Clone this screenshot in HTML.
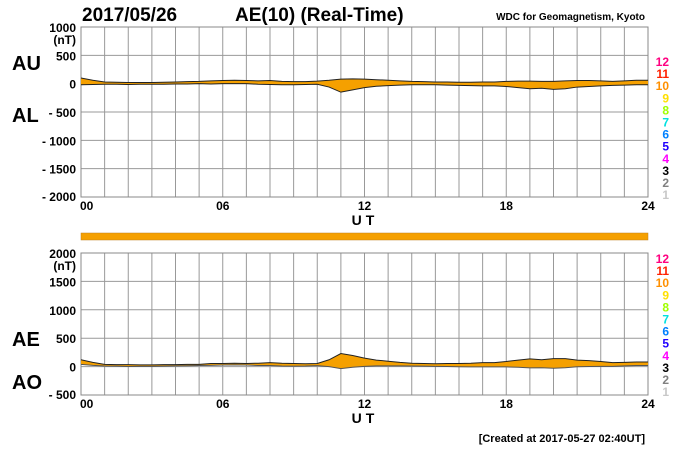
<!DOCTYPE html>
<html><head><meta charset="utf-8"><style>
body{margin:0;background:#fff;font-family:"Liberation Sans",sans-serif;}
svg text{font-family:"Liberation Sans",sans-serif;font-weight:bold;}
</style></head><body>
<svg id="c" width="700" height="450" xmlns="http://www.w3.org/2000/svg">
<text x="82" y="21" font-size="19">2017/05/26</text>
<text x="235" y="21" font-size="19">AE(10) (Real-Time)</text>
<text x="645" y="20" font-size="10" text-anchor="end" font-weight="normal">WDC for Geomagnetism, Kyoto</text>
<text x="645" y="442" font-size="11" text-anchor="end" font-weight="normal">[Created at 2017-05-27 02:40UT]</text>
<text x="12" y="70" font-size="20">AU</text>
<text x="12" y="122" font-size="20">AL</text>
<text x="12" y="346" font-size="20">AE</text>
<text x="12" y="389" font-size="20">AO</text>
<rect x="81" y="233" width="567" height="7" fill="#f5a000" stroke="#c08020" stroke-width="0.5"/>
<g id="g"></g>
</svg>
<script>
const hours=[0,0.5,1,1.5,2,2.5,3,3.5,4,4.5,5,5.5,6,6.5,7,7.5,8,8.5,9,9.5,10,10.5,11,11.5,12,12.5,13,13.5,14,14.5,15,15.5,16,16.5,17,17.5,18,18.5,19,19.5,20,20.5,21,21.5,22,22.5,23,23.5,24];
const auValues=[100,60,30,25,20,20,20,25,30,35,40,50,55,60,55,50,55,40,35,35,45,60,80,85,80,70,60,50,40,35,30,30,25,25,30,30,40,45,45,40,40,50,55,55,50,40,50,60,60];
const alValues=[-20,-15,-10,-10,-15,-10,-10,-10,-5,-5,0,-5,0,0,0,-10,-15,-20,-20,-15,-10,-60,-150,-110,-70,-45,-35,-25,-20,-20,-20,-25,-30,-35,-40,-40,-50,-70,-90,-80,-100,-90,-60,-50,-40,-30,-25,-20,-20];
const topTicks=[1000,500,0,-500,-1000,-1500,-2000];
const botTicks=[2000,1500,1000,500,0,-500];
const xTicks=[0,6,12,18,24];
const levelLabels=["12","11","10","9","8","7","6","5","4","3","2","1"];
const levelColors=["#ff0080","#ff2000","#ff9000","#ffe000","#a0ff00","#00e0e0","#0080ff","#2000ff","#ff00ff","#000000","#808080","#c8c8c8"];
const NS="http://www.w3.org/2000/svg",g=document.getElementById('g');
const X0=81,X1=648;
const xs=h=>X0+(X1-X0)*h/24;
function mk(t,a,p){const e=document.createElementNS(NS,t);for(const k in a)e.setAttribute(k,a[k]);(p||g).appendChild(e);return e;}
function panel(yTop,yBot,vmax,vmin,ticks,legendY){
 const ys=v=>yTop+(vmax-v)/(vmax-vmin)*(yBot-yTop);
 for(let h=0;h<=24;h++){const l=mk('line',{x1:xs(h),x2:xs(h),y1:yTop,y2:yBot,stroke:'#999','stroke-width':1});
 
 }
 ticks.forEach((v,i)=>{const l=mk('line',{x1:X0,x2:X1,y1:ys(v),y2:ys(v),stroke:'#999','stroke-width':1});
 
 
 const t=mk('text',{x:76,y:ys(v)+(i==ticks.length-1?4:5),'font-size':12,'text-anchor':'end'});t.textContent=v<0?'- '+(-v):v;
 
 
 if(i==0){const u=mk('text',{x:76,y:ys(v)+17,'font-size':12,'text-anchor':'end'});u.textContent='(nT)';
 
 }});
 mk('rect',{x:X0,y:yTop,width:X1-X0,height:yBot-yTop,fill:'none',stroke:'#888'});
 xTicks.forEach(h=>{const t=mk('text',{x:xs(h)+(h==0?-1:0),y:yBot+13,'font-size':12,'text-anchor':h==0?'start':'middle'});t.textContent=String(h).padStart(2,'0');
 
 });
 const ut=mk('text',{x:365,y:yBot+28,'font-size':14,'text-anchor':'middle','letter-spacing':'4'});ut.textContent='UT';
 
 
 levelLabels.forEach((s,i)=>{const t=mk('text',{x:669,y:legendY+i*12.1,'font-size':12,'text-anchor':'end',fill:levelColors[i]});t.textContent=s;
 
 });
 return ys;
}
const ysT=panel(27,197,1000,-2000,topTicks,66);
const ysB=panel(253,395,2000,-500,botTicks,263);
function band(up,lo,ys,name,loColor){
 let d='M'+hours.map((h,i)=>xs(h)+','+ys(up[i])).join('L');
 d+='L'+hours.map((h,i)=>xs(h)+','+ys(lo[i])).reverse().join('L')+'Z';
 const p=mk('path',{d:d,fill:'#f5a000',stroke:'none'});
 
 
 const a=mk('polyline',{points:hours.map((h,i)=>xs(h)+','+ys(up[i])).join(' '),fill:'none',stroke:'#222','stroke-width':1});
 
 
 const b=mk('polyline',{points:hours.map((h,i)=>xs(h)+','+ys(lo[i])).join(' '),fill:'none',stroke:loColor,'stroke-width':1});
 
 
}
band(auValues,alValues,ysT,'au-al','#222');
const aeValues=auValues.map((v,i)=>v-alValues[i]);
const aoValues=auValues.map((v,i)=>(v+alValues[i])/2);
band(aeValues,aoValues,ysB,'ae-ao','#555');
</script>
</body></html>
